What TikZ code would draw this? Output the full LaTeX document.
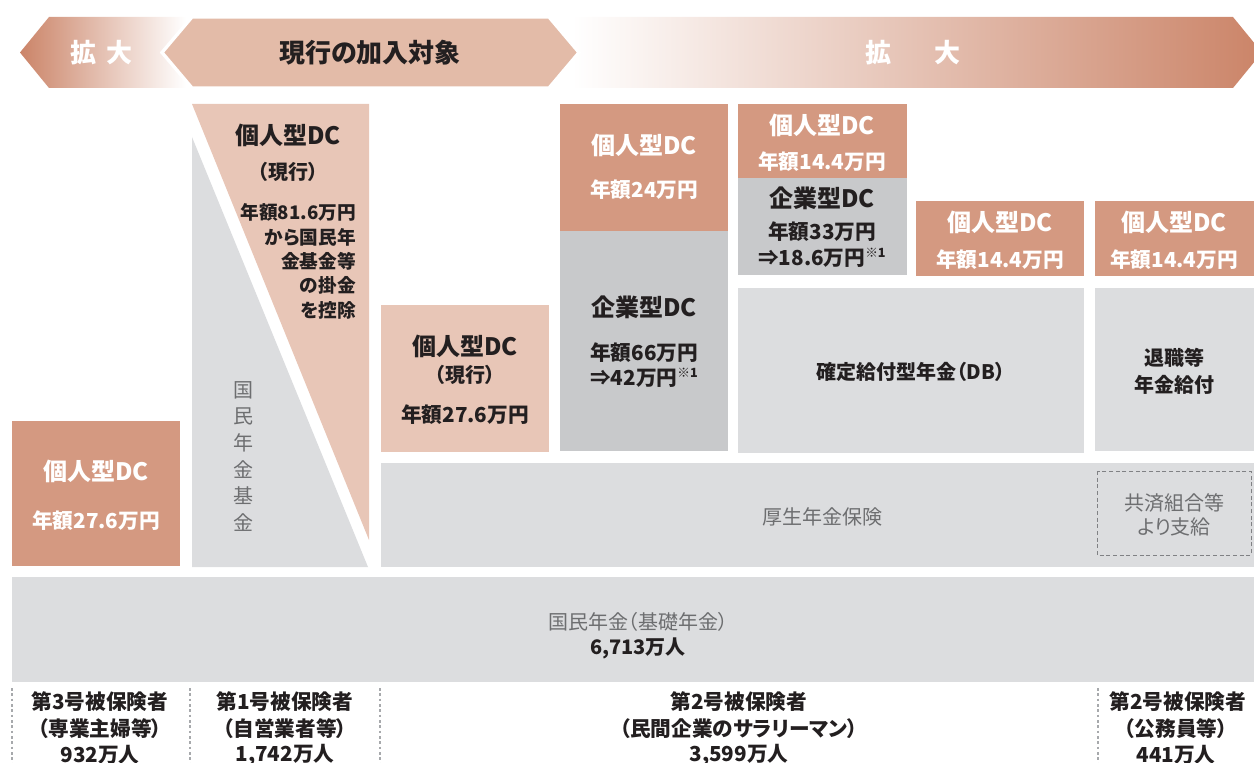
\documentclass[tikz,border=0pt]{standalone}
\usepackage{fontspec}
\setmainfont{Noto Sans CJK JP}[RawFeature=+palt]
\definecolor{salD}{HTML}{CB8468}
\definecolor{salM}{HTML}{D49981}
\definecolor{salL}{HTML}{E8C6B7}
\definecolor{salH}{HTML}{E3BBA8}
\definecolor{grL}{HTML}{DCDDDF}
\definecolor{grM}{HTML}{C8C9CB}
\definecolor{txG}{HTML}{6D6E70}
\definecolor{txK}{HTML}{231F20}
\definecolor{dotG}{HTML}{A7A9AC}
\definecolor{dashG}{HTML}{808184}
\tikzset{
  lbl/.style={inner sep=0pt, anchor=center, text=txK},
  hd/.style={lbl, font=\fontsize{18}{21}\selectfont\bfseries},
  am/.style={lbl, font=\fontsize{15.5}{18}\selectfont\bfseries},
  sm/.style={lbl, font=\fontsize{14}{17}\selectfont\bfseries},
  md/.style={lbl, font=\fontsize{15}{18}\selectfont\bfseries},
  gt/.style={lbl, text=txG, font=\fontsize{15}{18}\selectfont},
  bt/.style={lbl, font=\fontsize{15.5}{18}\selectfont\bfseries},
  ban/.style={lbl, font=\fontsize{19.5}{22}\selectfont\bfseries},
  dotline/.style={draw=dotG, line width=1.9pt, dash pattern=on 2pt off 2pt},
}
\newcommand{\kome}{{\fontsize{9.5}{10}\selectfont\raisebox{6pt}{※1}}}
\begin{document}
\begin{tikzpicture}[x=0.75pt,y=-0.75pt]
\useasboundingbox (0,0) rectangle (1254,763);
\clip (0,0) rectangle (1254,763);
% ---------- banner ----------
\shade[left color=salD, right color=white] (20,52.5) -- (49,17) -- (186,17) -- (186,88) -- (49,88) -- cycle;
\shade[left color=white, right color=salD] (572,17) -- (1233,17) -- (1262,52.5) -- (1233,88) -- (572,88) -- cycle;
\fill[salH, draw=white, line width=2.5pt] (162,52.5) -- (192,17) -- (549,17) -- (579,52.5) -- (549,88) -- (192,88) -- cycle;
\node[ban, text=white] (kakuL) at (101.5,53) {拡\hspace{8pt}大};
\node[ban] (genko) at (370,53) {現行の加入対象};
\node[ban, text=white] (kakuR) at (913,53) {拡\hspace{33pt}大};
% ---------- boxes ----------
\fill[salM] (12,421) rectangle (180,566);
\fill[grL] (192,137) -- (368,567) -- (192,567) -- cycle;
\fill[salL] (192,104) -- (369,104) -- (369,540) -- cycle;
\fill[salL] (381,305) rectangle (549,452);
\fill[salM] (560,104) rectangle (728,231);
\fill[grM] (560,231) rectangle (728,451);
\fill[salM] (738,104) rectangle (907,178);
\fill[grM] (738,178) rectangle (907,275);
\fill[salM] (916,201) rectangle (1084,276);
\fill[salM] (1095,201) rectangle (1254,276);
\fill[grL] (738,288) rectangle (1084,453);
\fill[grL] (1095,288) rectangle (1254,451);
\fill[grL] (381,463) rectangle (1254,567);
\draw[dashG, dashed, dash pattern=on 3pt off 2pt, line width=0.7pt] (1097,471) rectangle (1251,555);
\fill[grL] (12,577) rectangle (1254,682);
% ---------- texts ----------
\node[hd, text=white] (l1) at (96,471) {個人型DC};
\node[am, text=white] (l2) at (96,521) {年額27.6万円};

\node[hd] (t1) at (288,135) {個人型DC};
\node[md] (t2) at (288,172) {（現行）};
\node[sm, anchor=east] (t3) at (356,212) {年額81.6万円};
\node[sm, anchor=east] (t4) at (356,237) {から国民年};
\node[sm, anchor=east] (t5) at (356,261) {金基金等};
\node[sm, anchor=east] (t6) at (356,285) {の掛金};
\node[sm, anchor=east] (t7) at (356,310) {を控除};
\node[gt, align=center, font=\fontsize{15}{20}\selectfont] (kkk) at (243,456.5) {国\\民\\年\\金\\基\\金};

\node[hd] (g1) at (465,346) {個人型DC};
\node[md] (g2) at (465,375) {（現行）};
\node[am] (g3) at (465,415) {年額27.6万円};

\node[hd, text=white] (a1) at (644,145) {個人型DC};
\node[am, text=white] (a2) at (644,190) {年額24万円};
\node[hd] (a3) at (644,307) {企業型DC};
\node[am] (a4) at (644,353) {年額66万円};
\node[am] (a5) at (644,378) {⇒42万円\kome};

\node[hd, text=white] (b1) at (822,125) {個人型DC};
\node[am, text=white] (b2) at (822,162) {年額14.4万円};
\node[hd] (b3) at (822,198) {企業型DC};
\node[am] (b4) at (822,232) {年額33万円};
\node[am] (b5) at (822,258) {⇒18.6万円\kome};

\node[hd, text=white] (c1) at (1000,222) {個人型DC};
\node[am, text=white] (c2) at (1000,260) {年額14.4万円};
\node[hd, text=white] (d1) at (1174,222) {個人型DC};
\node[am, text=white] (d2) at (1174,260) {年額14.4万円};

\node[md] (db) at (911,372) {確定給付型年金（DB）};
\node[md] (tai1) at (1174,358) {退職等};
\node[md] (tai2) at (1174,385) {年金給付};

\node[gt] (kosei) at (822,517) {厚生年金保険};
\node[gt] (kyo1) at (1174,503) {共済組合等};
\node[gt] (kyo2) at (1174,527) {より支給};

\node[gt] (kn1) at (638,622) {国民年金（基礎年金）};
\node[md] (kn2) at (638,648) {6,713万人};
% ---------- bottom ----------
\coordinate (v1t) at (12,688);  \coordinate (v1b) at (12,763);
\coordinate (v2t) at (190,688); \coordinate (v2b) at (190,763);
\coordinate (v3t) at (380,688); \coordinate (v3b) at (380,763);
\coordinate (v4t) at (1098,688);\coordinate (v4b) at (1098,763);
\draw[dotline] (v1t) -- (v1b);
\draw[dotline] (v2t) -- (v2b);
\draw[dotline] (v3t) -- (v3b);
\draw[dotline] (v4t) -- (v4b);

\node[bt] (p1a) at (100,702) {第3号被保険者};
\node[bt] (p1b) at (100,729) {（専業主婦等）};
\node[bt] (p1c) at (100,755) {932万人};
\node[bt] (p2a) at (285,702) {第1号被保険者};
\node[bt] (p2b) at (285,729) {（自営業者等）};
\node[bt] (p2c) at (285,755) {1,742万人};
\node[bt] (p3a) at (739,702) {第2号被保険者};
\node[bt] (p3b) at (739,729) {（民間企業のサラリーマン）};
\node[bt] (p3c) at (739,755) {3,599万人};
\node[bt] (p4a) at (1178,702) {第2号被保険者};
\node[bt] (p4b) at (1176,729) {（公務員等）};
\node[bt] (p4c) at (1176,755) {441万人};
\end{tikzpicture}
\end{document}
